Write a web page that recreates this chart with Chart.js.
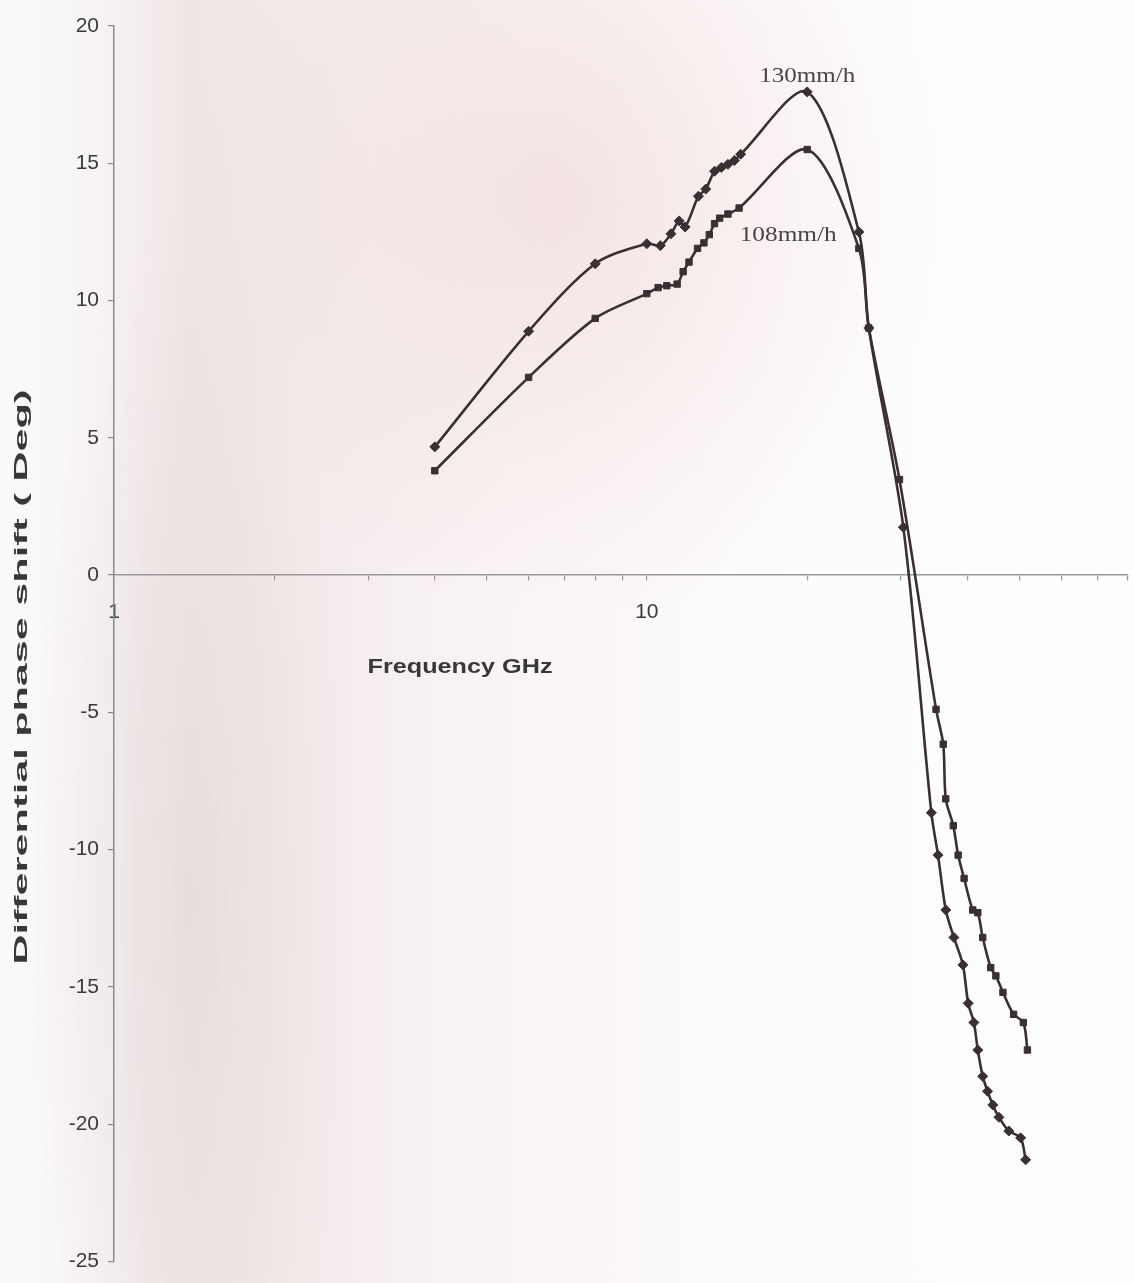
<!DOCTYPE html>
<html>
<head>
<meta charset="utf-8">
<script src="https://cdn.jsdelivr.net/npm/chart.js@4.4.1/dist/chart.umd.min.js"></script>
<style>
  html, body { margin: 0; padding: 0; }
  body {
    width: 1134px; height: 1283px; overflow: hidden;
    background:
      radial-gradient(ellipse 380px 420px at 560px 200px, rgba(238,212,212,0.55), rgba(238,212,212,0) 100%),
      radial-gradient(ellipse 160px 700px at 190px 900px, rgba(225,214,214,0.55), rgba(225,214,214,0) 100%),
      linear-gradient(to right, #fbfafa 0px, #f7f3f3 100px, #f0e6e6 190px, #f4ecec 320px, #faf5f5 520px, #fdfcfc 800px, #fefefe 1134px);
  }
  #wrap { position: relative; width: 1134px; height: 1283px; }
</style>
</head>
<body>
<div id="wrap"><canvas id="c" width="1134" height="1283"></canvas></div>
<script>
// Rain rate 130 mm/h: frequency (GHz) and differential phase shift (deg)
const freq130 = [4, 6, 8, 10, 10.6, 11.1, 11.5, 11.8, 12.5, 12.9, 13.4, 13.8, 14.2, 14.6, 15,
                 20, 25, 26.1, 30.3, 34.2, 35.2, 36.4, 37.7, 39.2, 40.1, 41.1, 41.8, 42.7,
                 43.6, 44.6, 45.8, 47.8, 50.3, 51.4];
const phase130 = [4.67, 8.88, 11.34, 12.07, 12.0, 12.43, 12.9, 12.68, 13.8, 14.06, 14.71, 14.85, 14.96, 15.1, 15.33,
                  17.6, 12.5, 9.0, 1.74, -8.66, -10.2, -12.2, -13.2, -14.2, -15.6, -16.3, -17.3, -18.26,
                  -18.8, -19.3, -19.75, -20.25, -20.5, -21.3];

// Rain rate 108 mm/h
const freq108 = [4, 6, 8, 10, 10.5, 10.9, 11.4, 11.7, 12.0, 12.45, 12.8, 13.1, 13.4, 13.7, 14.2, 14.9,
                 20, 25, 26.1, 29.8, 34.9, 36, 36.4, 37.6, 38.4, 39.4, 40.9, 41.8, 42.7,
                 44.2, 45.2, 46.6, 48.8, 50.9, 51.8];
const phase108 = [3.8, 7.2, 9.35, 10.25, 10.47, 10.54, 10.6, 11.05, 11.4, 11.9, 12.1, 12.4, 12.8, 13.0, 13.15, 13.37,
                  15.5, 11.9, 9.0, 3.48, -4.89, -6.16, -8.15, -9.13, -10.2, -11.05, -12.2, -12.3, -13.2,
                  -14.3, -14.6, -15.2, -16.0, -16.3, -17.3];

const seriesNames = ['130mm/h', '108mm/h'];
const xTickValues = [1, 2, 3, 4, 5, 6, 7, 8, 9, 10, 20, 30, 40, 50, 60, 70, 80];
const xTickLabels = [1, 10];
const xTitle = 'Frequency GHz';
const yTitle = 'Differential phase shift ( Deg)';

const ink = '#3a3033';
const sans = '"Liberation Sans", Arial, sans-serif';
const serif = '"Liberation Serif", "Times New Roman", serif';

function pairs(xs, ys) { return xs.map((x, i) => ({ x: x, y: ys[i] })); }

// Draws text centred at (cx, cy), stretched along its baseline to a given length
function stretchedText(ctx, text, cx, cy, font, color, length, angle) {
  ctx.save();
  ctx.font = font;
  ctx.fillStyle = color;
  ctx.textAlign = 'center';
  ctx.textBaseline = 'middle';
  ctx.translate(cx, cy);
  ctx.rotate(angle);
  const w = ctx.measureText(text).width;
  ctx.scale(length / w, 1);
  ctx.fillText(text, 0, 0);
  ctx.restore();
}

function peakIndex(vals) {
  let k = 0;
  vals.forEach((v, i) => { if (v > vals[k]) k = i; });
  return k;
}

const captions = {
  id: 'captions',
  afterDraw(chart) {
    const ctx = chart.ctx;
    const xs = chart.scales.x, ys = chart.scales.y;
    stretchedText(ctx, xTitle, 460, 667, 'bold 20px ' + sans, '#383838', 185, 0);
    stretchedText(ctx, yTitle, 22, 677, 'bold 19px ' + sans, '#383838', 575, -Math.PI / 2);

    const k1 = peakIndex(phase130);
    const p1x = xs.getPixelForValue(freq130[k1]), p1y = ys.getPixelForValue(phase130[k1]);
    stretchedText(ctx, seriesNames[0], p1x, p1y - 15, '21px ' + serif, '#4a4446', 96, 0);

    const k2 = peakIndex(phase108);
    const p2x = xs.getPixelForValue(freq108[k2]), p2y = ys.getPixelForValue(phase108[k2]);
    stretchedText(ctx, seriesNames[1], p2x - 19, p2y + 86, '21px ' + serif, '#4a4446', 97, 0);
  }
};

new Chart(document.getElementById('c'), {
  type: 'scatter',
  data: {
    datasets: [
      {
        label: seriesNames[0],
        data: pairs(freq130, phase130),
        showLine: true,
        borderColor: ink, backgroundColor: ink,
        borderWidth: 2.6, tension: 0.3,
        pointStyle: 'rectRot', pointRadius: 5, pointBorderWidth: 1
      },
      {
        label: seriesNames[1],
        data: pairs(freq108, phase108),
        showLine: true,
        borderColor: ink, backgroundColor: ink,
        borderWidth: 2.6, tension: 0.3,
        pointStyle: 'rect', pointRadius: 4.5, pointBorderWidth: 1
      }
    ]
  },
  options: {
    responsive: false,
    animation: false,
    devicePixelRatio: 1,
    layout: { padding: { top: 26, bottom: 15, left: 0, right: 0 } },
    plugins: { legend: { display: false }, tooltip: { enabled: false } },
    scales: {
      x: {
        type: 'logarithmic',
        position: { y: 0 },
        min: 1, max: 80,
        afterBuildTicks(scale) {
          scale.ticks = xTickValues.map(v => ({ value: v }));
        },
        afterFit(scale) { scale.paddingLeft = 0; scale.paddingRight = 0; },
        ticks: {
          autoSkip: false,
          maxRotation: 0,
          padding: 20,
          color: '#3a3a3a',
          font: { family: sans, size: 21 },
          callback: (v) => xTickLabels.includes(v) ? String(v) : ''
        },
        grid: { drawOnChartArea: false, drawTicks: true, tickLength: 5, color: '#9a9a9a', lineWidth: 1.2 },
        border: { display: true, color: '#9a9a9a', width: 1.5 }
      },
      y: {
        min: -25, max: 20,
        afterFit(scale) { scale.width = 114; },
        ticks: {
          stepSize: 5,
          padding: 9,
          color: '#3a3a3a',
          font: { family: sans, size: 21 }
        },
        grid: { drawOnChartArea: false, drawTicks: true, tickLength: 6, color: '#8a8a8a', lineWidth: 1.2 },
        border: { display: true, color: '#8a8a8a', width: 1.5 }
      }
    }
  },
  plugins: [captions]
});
</script>
</body>
</html>
